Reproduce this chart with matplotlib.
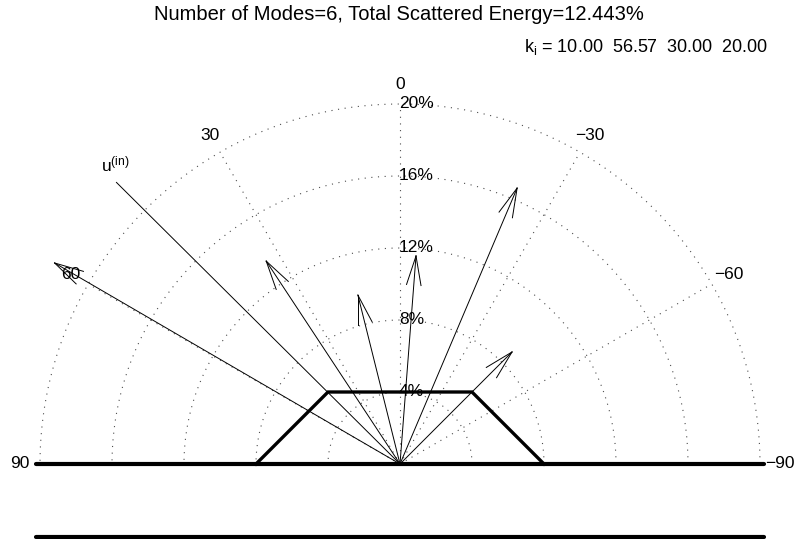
import numpy as np
import matplotlib
matplotlib.use('Agg')
import matplotlib.pyplot as plt

plt.rcParams['font.family'] = ['Liberation Sans', 'DejaVu Sans']
plt.rcParams['mathtext.fontset'] = 'custom'
plt.rcParams['mathtext.rm'] = 'Liberation Sans'
plt.rcParams['mathtext.it'] = 'Liberation Sans:italic'

# ── Data ─────────────────────────────────────────────────────────────────────
n_modes      = 6
total_energy = 12.443                      # %
k_values     = [10.00, 56.57, 30.00, 20.00]

# scattered modes: angle from normal (deg, + to the left) and energy (%)
mode_angles = [59.8, 33.4, 14.0, -4.4, -23.0, -45.0]
mode_energy = [22.2, 13.5, 9.67, 11.59, 16.65, 8.8]

inc_angle = 45.2                           # incident wave direction
inc_len   = 22.2

ring_pcts    = [4, 8, 12, 16, 20]
spoke_angles = [90, 60, 30, 0, -30, -60, -90]

# surface profile (trapezoidal bump) and lower boundary
surf_x = [-8.0, -4.0, 4.0, 8.0]
surf_y = [0.0, 4.0, 4.0, 0.0]
flat_half_width = 20.2
bottom_depth = -4.05

RMAX = 20.0
PX = 18.0          # pixels per percent
FS = 12.5


def to_xy(theta, r):
    t = np.deg2rad(theta)
    return -r * np.sin(t), r * np.cos(t)


# ── Figure ────────────────────────────────────────────────────────────────────
fig = plt.figure(figsize=(7.97, 5.39), dpi=100)
ax = fig.add_axes([0, 0, 1, 1])
ax.set_xlim(-400 / PX, 397 / PX)
ax.set_ylim(-75 / PX, 464 / PX)
ax.axis('off')

dot = dict(color='0.3', lw=0.8, linestyle=(0, (1, 5)), zorder=1)

# dotted rings and spokes (upper half only)
th = np.linspace(-90, 90, 400)
for r in ring_pcts:
    x, y = to_xy(th, r)
    ax.plot(x, y, **dot)
    ax.text(-0.05, r, f'{r}%', ha='left', va='center', fontsize=FS, zorder=3)
for a in spoke_angles:
    x, y = to_xy(a, RMAX)
    ax.plot([0, x], [0, y], **dot)
    lx, ly = to_xy(a, 21.1)
    lbl = str(a).replace('-', '\u2212')
    ax.text(lx, ly, lbl, ha='center', va='center', fontsize=FS)

# incident direction (no head)
ix, iy = to_xy(inc_angle, inc_len)
ax.plot([0, ix], [0, iy], color='k', lw=0.7, zorder=2)
ax.text(ix - 0.05, iy + 1.0, r'u$^{\mathrm{(in)}}$', ha='center', va='center', fontsize=FS)

# scattered modes as open arrows
head = 30 / PX
for a, e in zip(mode_angles, mode_energy):
    tx, ty = to_xy(a, e)
    ax.plot([0, tx], [0, ty], color='k', lw=0.7, zorder=2)
    back = np.arctan2(-ty, -tx)
    for s in (-1, 1):
        b = back + s * np.deg2rad(14)
        ax.plot([tx, tx + head * np.cos(b)], [ty, ty + head * np.sin(b)],
                color='k', lw=0.7, zorder=2)

# surface and lower boundary
ax.plot([-flat_half_width, flat_half_width], [0, 0], color='k', lw=3.0,
        solid_capstyle='round', zorder=4)
ax.plot(surf_x, surf_y, color='k', lw=2.4, solid_joinstyle='miter', zorder=4)
ax.plot([-flat_half_width, flat_half_width], [bottom_depth, bottom_depth],
        color='k', lw=3.0, solid_capstyle='round', zorder=4)

# titles
fig.text(0.5, 1 - 14 / 539,
         f'Number of Modes={n_modes}, Total Scattered Energy={total_energy:.3f}%',
         ha='center', va='center', fontsize=14.5)
kstr = '  '.join(f'{k:.2f}' for k in k_values)
fig.text(768 / 797, 1 - 47 / 539, r'k$_{\mathrm{i}}$ = ' + kstr,
         ha='right', va='center', fontsize=FS + 0.5)

fig.savefig('out.png', dpi=100)
